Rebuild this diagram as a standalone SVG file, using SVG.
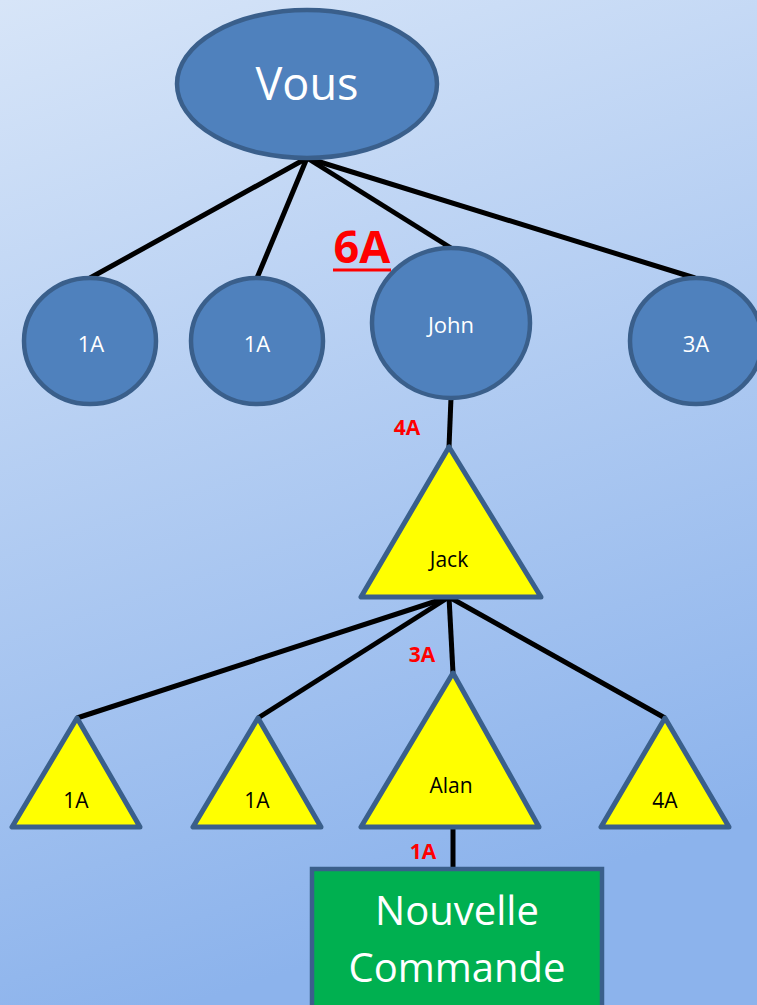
<svg xmlns="http://www.w3.org/2000/svg" width="757" height="1005" viewBox="0 0 757 1005">
<defs>
<linearGradient id="bg" x1="0" y1="0" x2="0.25" y2="1">
<stop offset="0" stop-color="#d7e5f8"/>
<stop offset="1" stop-color="#8cb3ec"/>
</linearGradient>
<style>
.circ{fill:#4f81bd;stroke:#3a5f8b;stroke-width:4.5}
.tri{fill:#ffff00;stroke:#3a5f8b;stroke-width:5;stroke-linejoin:round}
.box{fill:#00b050;stroke:#3a5f8b;stroke-width:4.5}
.w{fill:#ffffff;font-family:"Open Sans","Liberation Sans",sans-serif;text-anchor:middle}
.b{fill:#000000;font-family:"Open Sans","Liberation Sans",sans-serif;text-anchor:middle;font-size:21px}
.r{fill:#ff0000;font-family:"Open Sans","Liberation Sans",sans-serif;font-weight:bold;text-anchor:middle;font-size:21px}
.c{stroke:#000000;stroke-width:5;fill:none;stroke-linecap:butt}
</style>
</defs>
<rect x="0" y="0" width="757" height="1005" fill="url(#bg)"/>
<g id="connectors">
<line class="c" x1="307" y1="158" x2="90" y2="278"/>
<line class="c" x1="307" y1="158" x2="257" y2="278"/>
<line class="c" x1="307" y1="158" x2="451" y2="248"/>
<line class="c" x1="307" y1="158" x2="695" y2="278"/>
<line class="c" x1="451" y1="398" x2="449" y2="447"/>
<line class="c" x1="449" y1="597" x2="77" y2="718"/>
<line class="c" x1="449" y1="597" x2="258" y2="718"/>
<line class="c" x1="449" y1="597" x2="453" y2="673"/>
<line class="c" x1="449" y1="597" x2="665" y2="718"/>
<line class="c" x1="453" y1="827" x2="453" y2="869"/>
</g>
<g id="vous">
<ellipse class="circ" cx="307" cy="84" rx="130" ry="74"/>
<text class="w" x="307" y="100" font-size="45">Vous</text>
</g>
<g id="c1">
<ellipse class="circ" cx="90" cy="341" rx="66" ry="63"/>
<text class="w" x="91" y="352" font-size="22">1A</text>
</g>
<g id="c2">
<ellipse class="circ" cx="257" cy="341" rx="66" ry="63"/>
<text class="w" x="257" y="352" font-size="22">1A</text>
</g>
<g id="john">
<ellipse class="circ" cx="451" cy="323" rx="79" ry="75"/>
<text class="w" x="451" y="333" font-size="22">John</text>
</g>
<g id="c3">
<ellipse class="circ" cx="696" cy="341" rx="66" ry="63"/>
<text class="w" x="696" y="352" font-size="22">3A</text>
</g>
<g id="label6A">
<text x="362" y="263" fill="#ff0000" font-family="'Open Sans','Liberation Sans',sans-serif" font-weight="bold" font-size="45" text-anchor="middle">6A</text>
<line x1="333" y1="270" x2="391" y2="270" stroke="#ff0000" stroke-width="3"/>
</g>
<g id="jack">
<polygon class="tri" points="449,447 361,597 541,597"/>
<text class="b" x="449" y="567">Jack</text>
</g>
<g id="t1">
<polygon class="tri" points="77,718 12,827 140,827"/>
<text class="b" x="76" y="808">1A</text>
</g>
<g id="t2">
<polygon class="tri" points="258,718 193,827 321,827"/>
<text class="b" x="257" y="808">1A</text>
</g>
<g id="alan">
<polygon class="tri" points="453,673 361,827 539,827"/>
<text class="b" x="451" y="793">Alan</text>
</g>
<g id="t4">
<polygon class="tri" points="665,718 601,827 729,827"/>
<text class="b" x="665" y="808">4A</text>
</g>
<g id="commande">
<rect class="box" x="312" y="869" width="290" height="150"/>
<text class="w" x="457" y="925" font-size="40">Nouvelle</text>
<text class="w" x="457" y="982" font-size="40">Commande</text>
</g>
<g id="labels">
<text class="r" x="407" y="435">4A</text>
<text class="r" x="422" y="662">3A</text>
<text class="r" x="423" y="859">1A</text>
</g>
</svg>
